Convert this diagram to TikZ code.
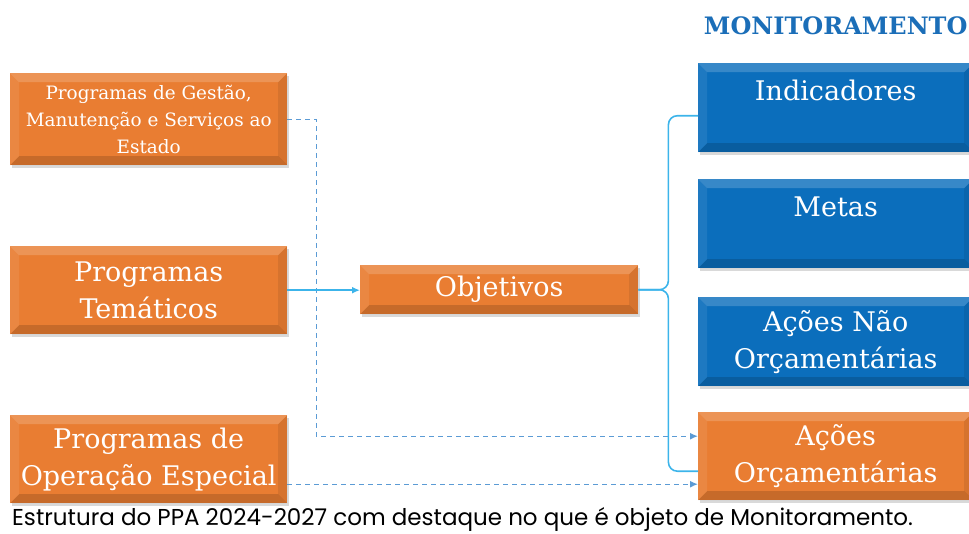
\documentclass[tikz,border=0pt]{standalone}
\usepackage{fontspec}
\setmainfont{DejaVu Serif}
\newfontfamily\capfont{Poppins}
\usetikzlibrary{shadows,arrows.meta}
\definecolor{ppaorange}{RGB}{233,125,50}
\definecolor{ppablue}{RGB}{11,110,188}
\definecolor{ppatitle}{RGB}{27,110,184}
\definecolor{ppadash}{RGB}{91,155,213}
\definecolor{ppalink}{RGB}{60,180,234}

\begin{document}
\begin{tikzpicture}[x=1pt,y=-1pt,
bevel/.style={path picture={
 \fill[white,opacity=.18] (path picture bounding box.north west) -- (path picture bounding box.north east) -- ([xshift=-9pt,yshift=-9pt]path picture bounding box.north east) -- ([xshift=9pt,yshift=-9pt]path picture bounding box.north west) -- cycle;
 \fill[white,opacity=.08] (path picture bounding box.north west) -- ([xshift=9pt,yshift=-9pt]path picture bounding box.north west) -- ([xshift=9pt,yshift=9pt]path picture bounding box.south west) -- (path picture bounding box.south west) -- cycle;
 \fill[black,opacity=.15] (path picture bounding box.south west) -- (path picture bounding box.south east) -- ([xshift=-9pt,yshift=9pt]path picture bounding box.south east) -- ([xshift=9pt,yshift=9pt]path picture bounding box.south west) -- cycle;
 \fill[black,opacity=.08] (path picture bounding box.north east) -- ([xshift=-9pt,yshift=-9pt]path picture bounding box.north east) -- ([xshift=-9pt,yshift=9pt]path picture bounding box.south east) -- (path picture bounding box.south east) -- cycle;}},
obox/.style={bevel,fill=ppaorange,text=white,align=center,anchor=north west,inner sep=0pt,drop shadow={opacity=.3,shadow xshift=2pt,shadow yshift=-3pt}},
bbox/.style={obox,fill=ppablue},
big/.style={font=\fontsize{27}{37}\selectfont},
small/.style={font=\fontsize{18.4}{27}\selectfont},
dsh/.style={draw=ppadash,dashed,line width=1.4pt,dash pattern=on 5pt off 4pt,-{Latex[length=8pt,width=7pt]}},
lnk/.style={draw=ppalink,line width=1.6pt,rounded corners=9pt}]

\useasboundingbox (0,0) rectangle (969,533);

%left programs
\node[obox,small,minimum width=277,minimum height=92] at (10,73) (gest){Programas de Gestão,\\Manutenção e Serviços ao\\Estado};
\node[obox,big,minimum width=277,minimum height=88] at (10,246) (tem){Programas\\Temáticos};
\node[obox,big,minimum width=277,minimum height=88] at (10,415) (oper){Programas de\\Operação Especial};

%middle
\node[obox,big,minimum width=278,minimum height=49] at (360,265) (obj){Objetivos};

%monitoring side
\node[text=ppatitle,anchor=east,font=\fontsize{24}{30}\selectfont\bfseries] at (971,26) (titl){MONITORAMENTO};
\node[bbox,big,minimum width=275,minimum height=89] at (698,63) (ind){Indicadores\\[-14pt]\strut};
\node[bbox,big,minimum width=275,minimum height=89] at (698,179) (met){Metas\\[-14pt]\strut};
\node[bbox,big,minimum width=275,minimum height=89] at (698,297) (nao){Ações Não\\Orçamentárias};
\node[obox,big,minimum width=275,minimum height=88] at (698,412) (orc){Ações\\Orçamentárias};

%connectors
\coordinate (orca) at ([yshift=20pt]orc.west);
\coordinate (orcb) at ([yshift=-28pt]orc.west);
\coordinate (orcc) at ([yshift=-15pt]orc.west);
\coordinate (inda) at ([yshift=-8pt]ind.west);
\draw[dsh] (gest.east) -- ++(29,0) |- (orca);
\draw[dsh] (orcb -| oper.east) -- (orcb);
\draw[draw=ppalink,line width=1.6pt,-{Latex[length=8pt,width=7pt]}] (tem.east) -- (tem.east -| obj.west);
\draw[lnk] (obj.east) -- ++(30,0) |- (inda);
\draw[lnk] (obj.east) -- ++(30,0) |- (orcc);

%caption
\node[anchor=base west,inner sep=0pt,font=\capfont\fontsize{23}{26}\selectfont] at (12,525) (cap){Estrutura do PPA 2024-2027 com destaque no que é objeto de Monitoramento.};
\end{tikzpicture}
\end{document}
